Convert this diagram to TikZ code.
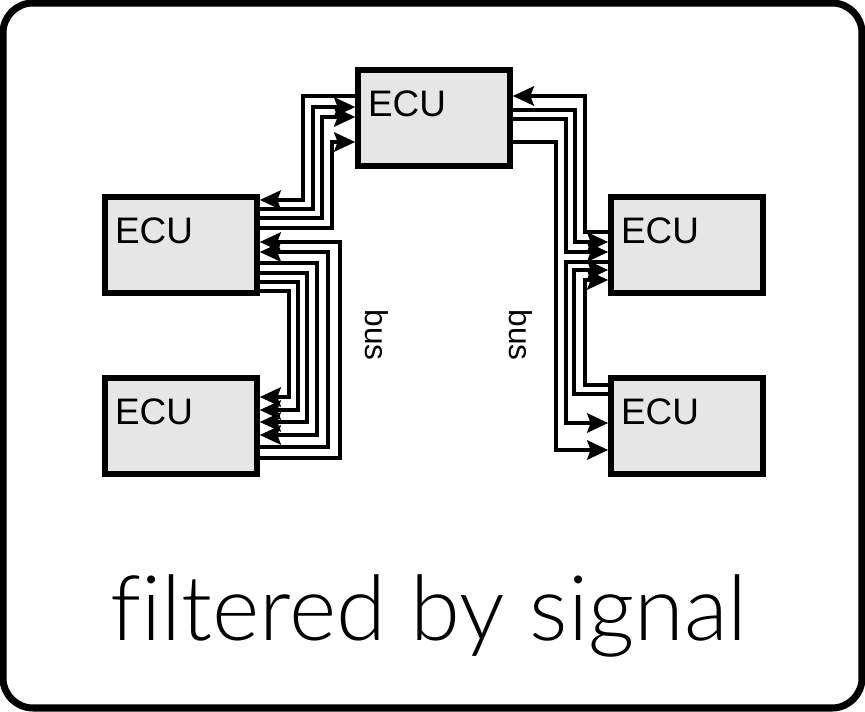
\documentclass[tikz,border=0pt]{standalone}
\usepackage{fontspec}
\setmainfont{Liberation Sans}
\newfontfamily\bigfont{Lato Light}[Ligatures=NoCommon]
\usepackage{tikz}
\usetikzlibrary{arrows.meta}
\definecolor{ecugray}{RGB}{230,230,230}
\tikzset{
  ecu/.style={draw=black, line width=3.2pt, fill=ecugray, text width=2.64cm, align=left, inner xsep=0.2cm, inner ysep=0.3cm, text height=0.64cm, text depth=0.68cm, font=\fontsize{21}{24}\selectfont},
  wire/.style={line width=1.9pt, draw=black},
  fwd/.style={-{Stealth[length=12pt,width=11pt,inset=2pt]}},
  bwd/.style={{Stealth[length=12pt,width=11pt,inset=2pt]}-},
  buslbl/.style={rotate=-90, font=\fontsize{18}{21}\selectfont},
  frame/.style={line width=4pt, rounded corners=0.6cm},
}
% one wire: from node, y there, column x, to node, y there
\newcommand{\wire}[6]{\draw[wire,#1] (#2 |- 0,#3) -- (#4,#3) -- (#4,#6) -- (#5 |- 0,#6);}

\begin{document}
\begin{tikzpicture}[x=0.02cm, y=-0.02cm]
  \useasboundingbox (0,0) rectangle (865,712);
  \draw[frame] (3,3) rectangle (862,708);

  \node[ecu] (top) at (434,118) {ECU};
  \node[ecu] (lu) at (181,245) {ECU};
  \node[ecu] (ll) at (181,426) {ECU};
  \node[ecu] (ru) at (687,245) {ECU};
  \node[ecu] (rl) at (687,426) {ECU};

  % top <-> upper left
  \wire{fwd}{top.west}{96}{303}{lu.east}{200}
  \wire{bwd}{top.west}{107}{313}{lu.east}{209}
  \wire{bwd}{top.west}{117}{322}{lu.east}{218}
  \wire{bwd}{top.west}{142}{332}{lu.east}{228}

  % upper left <-> lower left
  \wire{bwd}{lu.east}{242}{340}{ll.east}{458}
  \wire{bwd}{lu.east}{252}{328}{ll.east}{447}
  \wire{fwd}{lu.east}{263}{317}{ll.east}{435}
  \wire{fwd}{lu.east}{273}{307}{ll.east}{422}
  \wire{fwd}{lu.east}{282}{298}{ll.east}{410}
  \wire{fwd}{lu.east}{291}{289}{ll.east}{397}

  % top <-> right
  \wire{bwd}{top.east}{96}{585}{ru.west}{232}
  \wire{fwd}{top.east}{110}{575}{ru.west}{242}
  \wire{fwd}{top.east}{119}{566}{ru.west}{252}
  \wire{fwd}{top.east}{142}{556}{rl.west}{450}

  % upper right <-> lower right
  \wire{fwd}{ru.west}{262}{566}{rl.west}{423}
  \wire{bwd}{ru.west}{270}{574}{rl.west}{394}
  \wire{bwd}{ru.west}{280}{585}{rl.west}{385}

  \node[buslbl] (busl) at (377,335) {bus};
  \node[buslbl] (busr) at (521,335) {bus};

  \node[anchor=base, font=\bigfont\fontsize{51.5}{62}\selectfont] (caption) at (429,640) {filtered by signal};
\end{tikzpicture}
\end{document}
